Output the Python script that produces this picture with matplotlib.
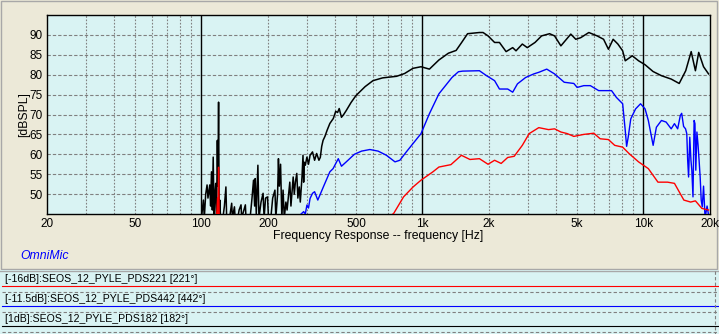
import matplotlib
matplotlib.use("Agg")
import matplotlib.pyplot as plt
from matplotlib.patches import Rectangle
from matplotlib.lines import Line2D

# ---------------- data ----------------
x_ticks = [20, 50, 100, 200, 500, 1000, 2000, 5000, 10000, 20000]
x_tick_labels = ["20", "50", "100", "200", "500", "1k", "2k", "5k", "10k", "20k"]
y_ticks = [50, 55, 60, 65, 70, 75, 80, 85, 90]
minor_freqs = [30, 40, 50, 60, 70, 80, 90, 200, 300, 400, 500, 600, 700, 800, 900,
               2000, 3000, 4000, 5000, 6000, 7000, 8000, 9000]
major_freqs = [100, 1000, 10000]

legend_labels = ["[-16dB]:SEOS_12_PYLE_PDS221 [221°]",
                 "[-11.5dB]:SEOS_12_PYLE_PDS442 [442°]",
                 "[1dB]:SEOS_12_PYLE_PDS182 [182°]"]

# black: SEOS_12_PYLE_PDS182
black_freq = [100, 102, 103, 104.5, 106, 107, 109, 110, 111, 112, 113, 114, 115, 116, 117,
              118, 118.7, 119.5, 120.3, 121, 122, 125, 127, 129, 130, 134, 137, 138, 141,
              142, 146, 148, 151, 152, 158, 159, 166, 169, 172, 174, 175, 177, 180, 182,
              186, 190, 192, 195, 199, 201, 206, 210, 215, 217, 221, 223, 225, 228, 231,
              234, 237, 241, 244, 251, 254, 260, 263, 266, 270, 273, 277, 280, 285, 288,
              290, 292, 295, 300, 305, 310, 318, 325, 332, 340, 345, 350, 355, 362, 370,
              381, 395, 405, 413, 420, 430, 440, 452, 475, 500, 550, 597, 660, 764, 830,
              906, 985, 1075, 1187, 1310, 1420, 1500, 1600, 1810, 1880, 1980, 2120, 2230,
              2390, 2560, 2650, 2830, 2980, 3230, 3460, 3760, 3960, 4230, 4690, 4940, 5200,
              5660, 6170, 6600, 6940, 7290, 7660, 8050, 8270, 8900, 9500, 10170, 11050,
              12060, 13350, 14510, 15530, 16440, 17180, 17780, 18700, 19700]
black_db = [44, 48.5, 44, 50, 52.3, 49, 52.3, 47, 55.6, 46, 59.3, 44, 50, 52.7, 44,
            63.5, 52, 73.1, 44, 48.5, 44, 44, 47, 51.8, 44, 44, 47.7, 44, 46.8,
            44, 44, 46, 47.3, 44, 47.3, 44, 44, 48.5, 53.5, 47, 53.9, 45, 57.25, 44,
            48, 50.2, 44, 49, 49.3, 44, 44, 49, 51, 44, 50, 58.9, 52, 57.5, 44,
            51, 44, 48, 46, 53, 47, 54.3, 50, 53, 55.2, 49, 51.8, 48, 54.3, 59.75,
            53, 58, 57.25, 59.3, 57.5, 59.75, 60.6, 58.5, 60.2, 58.5, 59.25, 62, 63.5, 64.5, 66,
            67.75, 69, 70.8, 70.5, 71.5, 69.3, 70, 71, 73, 74.75, 77, 78.5, 79.2, 79.6, 80.3,
            81.6, 82, 81.4, 83.7, 85.4, 86.1, 88, 90.3, 90.6, 90.6, 89.75, 88.1, 88.1,
            85.8, 86.8, 86, 87.7, 86.8, 88.1, 89.75, 90.3, 89.75, 87.25, 90.2, 88.9, 89.3,
            90.6, 89.75, 88.9, 86.4, 88.9, 87.7, 86, 83.5, 84.75, 83.5, 82.5, 80.8,
            79.75, 78.9, 77.8, 81, 85.8, 81, 85.6, 82, 80.2]

# blue: SEOS_12_PYLE_PDS442
blue_freq = [270, 290, 295, 300, 305, 310, 318, 325, 336, 356, 381, 394, 416, 430, 452,
             492, 530, 578, 630, 687, 751, 790, 845, 985, 1075, 1187, 1360, 1455, 1520,
             1810, 1950, 2120, 2230, 2430, 2560, 2690, 2930, 3190, 3360, 3650, 3960, 4380,
             4840, 5010, 5370, 5750, 6270, 6600, 7170, 7540, 8050, 8270, 8390, 8530, 8760,
             9210, 9700, 10170, 10520, 11060, 11440, 12060, 12660, 13350, 13810, 14280,
             14680, 14890, 15190, 15500, 15700, 15850, 16000, 16200, 16400, 16550, 16750,
             16950, 17100, 17250, 17450, 17650, 17850, 18050, 18250, 18450, 18700, 19000,
             19400, 19800]
blue_db = [44, 45.6, 45, 47.25, 46.5, 48.9, 50.2, 50.6, 48.5, 51.8, 55.6, 56.4, 58.9, 57, 58.1,
           60, 60.8, 61.2, 60.8, 59.75, 58.1, 58.5, 60.6, 65.2, 70.2, 75.2, 79.3, 80.75, 80.9,
           81, 79.75, 78.5, 76.4, 76.4, 75.6, 77.7, 79.3, 80.2, 80.6, 81.4, 80.2, 78.1,
           77.8, 76.8, 77.25, 77.25, 76, 76, 76, 74.3, 72.7, 66, 62, 64.3, 68.9,
           71.4, 72.7, 71.4, 68.5, 62.25, 66.8, 68.5, 68.1, 66.4, 67.7, 66.4,
           69.75, 70.3, 67, 66.4, 65.2, 58.5, 54.3, 64.3, 58.5, 56, 49.3,
           68.5, 67.7, 56, 65.6, 62.5, 58.5, 54.3, 48.5, 46.8, 52, 44,
           47, 44]

# red: SEOS_12_PYLE_PDS221
red_freq = [117, 118.3, 118.8, 119.5, 120.3, 700, 742, 821, 907, 985, 1115, 1187, 1345,
            1500, 1640, 1810, 1980, 2120, 2270, 2430, 2600, 2830, 3040, 3360, 3720, 3960,
            4230, 4520, 4840, 5370, 5960, 6370, 6940, 7410, 8050, 8600, 9500, 10520,
            11630, 12850, 13810, 15230, 16350, 17180, 18380, 19700]
red_db = [44, 49, 44, 56.75, 44, 44, 45.2, 49.3, 51.8, 53.5, 55.6, 56.8, 57.4,
          59.75, 58.7, 58.9, 57.5, 58.5, 57.7, 59.2, 59.5, 62.25, 65.2, 66.7, 66.2, 66.4,
          65.6, 65.2, 64.5, 65, 65.3, 63.9, 63.7, 62.25, 61.8, 60.2, 58.1, 56.4,
          53, 53, 52.7, 48.5, 48, 48.3, 46.4, 46.0]

# ---------------- figure ----------------
W, H = 719, 334
DPI = 100
BEIGE = "#ECE9D8"
CYAN = "#D9F3F3"
GRID = "#808080"

plt.rcParams['font.family'] = ['Liberation Sans', 'DejaVu Sans']
fig = plt.figure(figsize=(W / DPI, H / DPI), dpi=DPI, facecolor=BEIGE)


def fx(px):
    return px / W


def fy(py):
    return 1 - py / H


# outer panel border
fig.patches.append(Rectangle((fx(1), fy(269)), fx(716), (268) / H, transform=fig.transFigure,
                             facecolor="none", edgecolor="#A8A8A8", lw=1.0, zorder=-5))

ax = fig.add_axes([fx(47), fy(214), fx(663), 199 / H])
ax.set_zorder(5)
ax.set_facecolor(CYAN)
ax.set_xscale("log")
ax.set_xlim(20, 20000)
ax.set_ylim(45, 95)

for f in minor_freqs:
    ax.axvline(f, color=GRID, lw=0.8, ls=(0, (1.5, 1.5)), zorder=1)
for y in y_ticks:
    ax.axhline(y, color=GRID, lw=0.8, ls=(0, (3, 1.8)), zorder=1)
for f in major_freqs:
    ax.axvline(f, color="black", lw=1.0, zorder=2)

ax.plot(black_freq, black_db, color="black", lw=1.1, zorder=3)
ax.plot(blue_freq, blue_db, color="#0000FF", lw=1.0, zorder=4)
ax.plot(red_freq, red_db, color="#FF0000", lw=1.0, zorder=5)

ax.set_xticks(x_ticks)
ax.set_xticklabels(x_tick_labels)
ax.xaxis.set_minor_locator(matplotlib.ticker.NullLocator())
ax.set_yticks(y_ticks)
ax.set_yticklabels([str(v) for v in y_ticks])
ax.tick_params(axis="both", length=0, labelsize=8.5, colors="black")
ax.tick_params(axis="x", pad=3)
ax.tick_params(axis="y", pad=3)
for s in ax.spines.values():
    s.set_color("black")
    s.set_linewidth(1.0)

fig.text(fx(24), fy(115), "[dBSPL]", rotation=90, ha="center", va="center", fontsize=8.8)
fig.text(fx(378), fy(236), "Frequency Response -- frequency [Hz]", ha="center", va="center",
         fontsize=8.8)
fig.text(fx(20), fy(256), "OmniMic", ha="left", va="center", fontsize=8.8, color="#0000FF",
         style="italic")

# legend panel
fig.patches.append(Rectangle((0, 0), 1, (H - 270) / H, transform=fig.transFigure,
                             facecolor=CYAN, edgecolor="none", zorder=-4))
fig.add_artist(Line2D([0, 1], [fy(270.5), fy(270.5)], transform=fig.transFigure,
                      color="#A8A8A8", lw=1.0))
leg_colors = ["#FF0000", "#0000FF", "black"]
for i, (lab, c) in enumerate(zip(legend_labels, leg_colors)):
    y0 = 279 + 20 * i
    fig.text(fx(5), fy(y0), lab, ha="left", va="center", fontsize=7.6, color="black")
    fig.add_artist(Line2D([fx(2), 1], [fy(285.5 + 20 * i)] * 2, transform=fig.transFigure,
                          color=c, lw=0.8))
    fig.add_artist(Line2D([fx(2), 1], [fy(291.5 + 20 * i)] * 2, transform=fig.transFigure,
                          color=GRID, lw=0.8, ls=(0, (3, 2))))
fig.add_artist(Line2D([fx(714.5), fx(714.5)], [fy(271), 0], transform=fig.transFigure,
                      color=GRID, lw=0.8, ls=(0, (3, 2))))

fig.savefig("out.png", dpi=DPI, facecolor=BEIGE)
